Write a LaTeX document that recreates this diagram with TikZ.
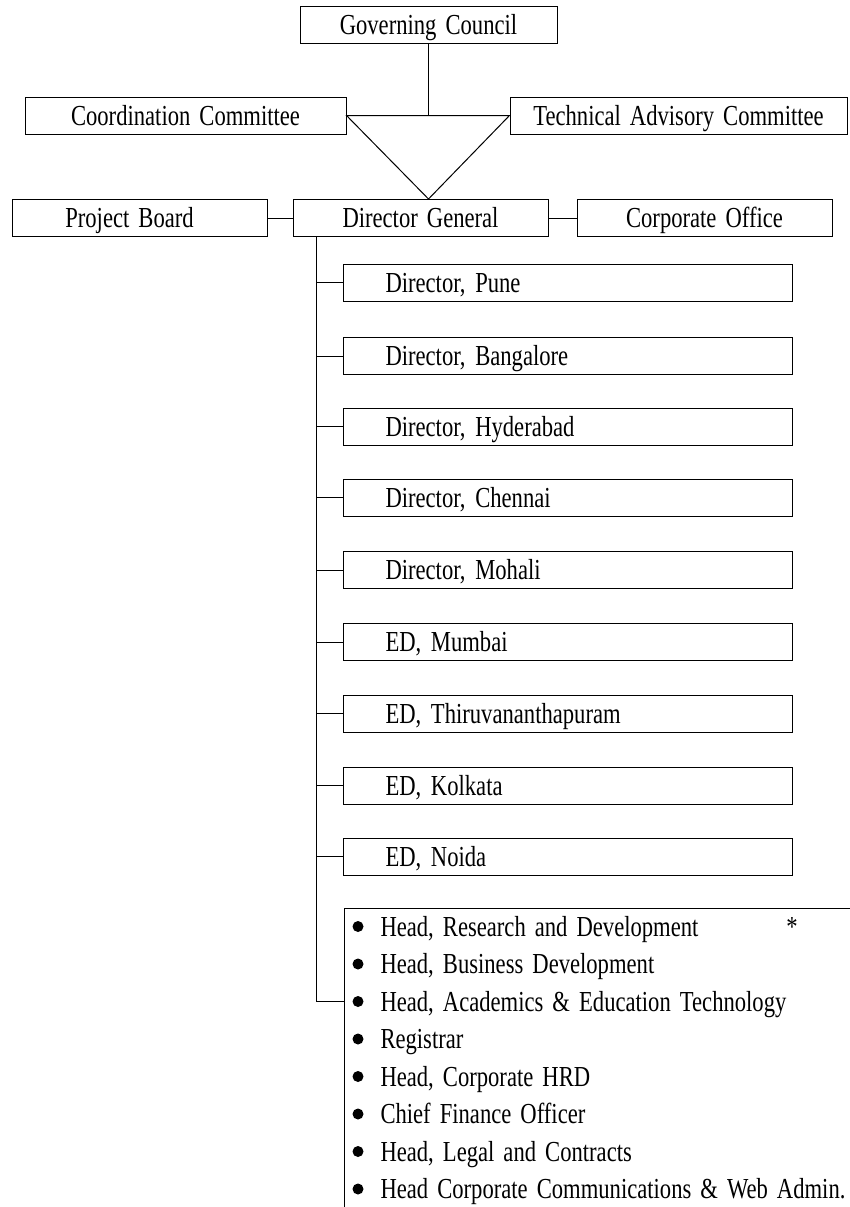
\documentclass[tikz,border=0pt]{standalone}
\usepackage{fontspec}
\setmainfont{Liberation Serif}[FakeStretch=0.78, WordSpace=1.6]
\usetikzlibrary{positioning, calc}

\begin{document}
\begin{tikzpicture}[x=1pt, y=-1pt, line width=1pt,
  every node/.style={font=\fontsize{29}{34}\selectfont},
  org/.style={draw, minimum height=37pt, inner xsep=0pt, inner ysep=9pt, text height=19pt, text depth=0pt},
  brn/.style={org, anchor=west, align=left, text width=365pt, inner xsep=42pt},
  itm/.style={anchor=base west, inner sep=0pt}
]
  \useasboundingbox (0,0) rectangle (849,1207);
  \node[org, minimum width=257pt] (gc) at (428.5,25.5) {Governing Council};
  \node[org, minimum width=321pt] (cc) at (185.5,115.5) {Coordination Committee};
  \node[org, minimum width=337pt] (tac) at (678.5,115.5) {Technical Advisory Committee};
  \node[org, minimum width=255pt] (pb) at (139.5,218) {Project Board\hspace*{20pt}};
  \node[org, minimum width=255pt] (dg) at (420.5,218) {Director General};
  \node[org, minimum width=255pt] (co) at (704.5,218) {Corporate Office};
  \draw (gc.south) -- (gc.south |- tac.west);
  \draw (cc.east) -- (tac.west) -- (gc.south |- dg.north) -- cycle;
  \draw (pb) -- (dg);
  \draw (dg) -- (co);
  % trunk down the left of the branches
  \coordinate (trk) at (316,237);
  \coordinate (trkend) at (316,1001);
  \draw (trk) -- (trkend);
  \foreach \name/\y/\txt in {pune/282.5/{Director, Pune}, blr/356/{Director, Bangalore},
      hyd/426.5/{Director, Hyderabad}, chn/497.5/{Director, Chennai}, moh/570/{Director, Mohali},
      mum/642/{ED, Mumbai}, tvm/713.5/{ED, Thiruvananthapuram}, kol/785.7/{ED, Kolkata},
      noi/856.5/{ED, Noida}} {
    \node[brn] (\name) at (343,\y) {\txt};
    \draw (\name.west) -- (\name.west -| trk);
  }
  % heads list
  \node[anchor=north west, minimum width=505pt, minimum height=299pt, inner sep=0pt] (heads) at (344,908) {};
  \draw (heads.north east) -- (heads.north west) -- (heads.south west);
  \draw (trkend) -- (trkend -| heads.west);
  \foreach \txt [count=\i] in {{Head, Research and Development}, {Head, Business Development},
      {Head, Academics \& Education Technology}, {Registrar}, {Head, Corporate HRD},
      {Chief Finance Officer}, {Head, Legal and Contracts}, {Head Corporate Communications \& Web Admin.}} {
    \node[itm] (item\i) at (380, 898.5+37.5*\i) {\txt};
    \fill (item\i.base west) ++(-22,-9.5) circle (5.5pt);
  }
  \node[anchor=base] (star) at (792,936) {*};
\end{tikzpicture}
\end{document}
